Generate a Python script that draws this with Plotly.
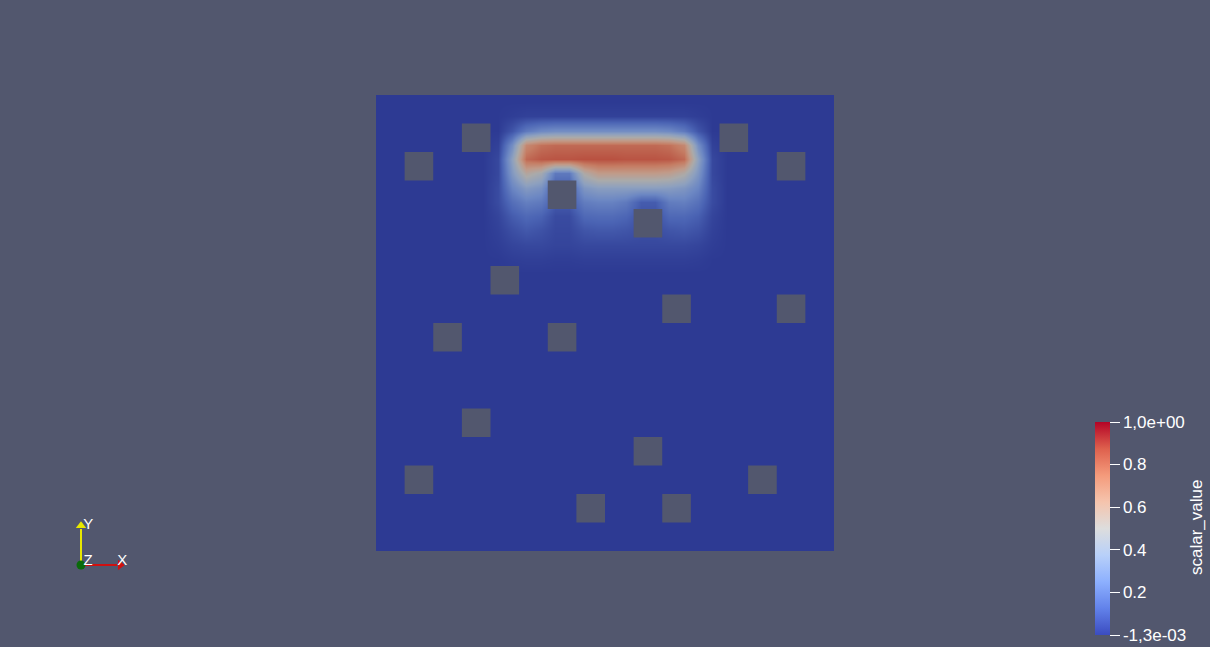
import plotly.graph_objects as go

# ---------------- data ----------------
BASE = -0.0013
ZMIN, ZMAX = -0.0013, 1.0
N_HALF = 32            # field sampled on half-cell grid (domain is 16 x 16 cells)
HOT_COL0 = 8           # first half-cell column of the read window
# field values, half-cell columns 8..23, rows from the top
hot_rows = [
    [BASE] * 16,
    [0.00, 0.01, 0.02, 0.02, 0.02, 0.02, 0.02, 0.02, 0.02, 0.02, 0.02, 0.02, 0.02, 0.02, 0.01, 0.00],
    [0.00, 0.08, 0.20, 0.26, 0.28, 0.28, 0.28, 0.28, 0.28, 0.28, 0.28, 0.28, 0.26, 0.20, 0.08, 0.00],
    [0.02, 0.28, 0.70, 0.78, 0.80, 0.80, 0.80, 0.80, 0.80, 0.80, 0.80, 0.80, 0.78, 0.70, 0.28, 0.02],
    [0.04, 0.38, 0.80, 0.85, 0.86, 0.86, 0.87, 0.87, 0.87, 0.86, 0.86, 0.86, 0.85, 0.80, 0.38, 0.04],
    [0.04, 0.33, 0.55, 0.47, 0.20, 0.20, 0.52, 0.62, 0.62, 0.62, 0.62, 0.62, 0.60, 0.52, 0.32, 0.04],
    [0.05, 0.24, 0.34, 0.30, 0.10, 0.10, 0.32, 0.36, 0.36, 0.36, 0.36, 0.36, 0.35, 0.32, 0.24, 0.05],
    [0.05, 0.16, 0.22, 0.20, 0.10, 0.10, 0.21, 0.23, 0.23, 0.20, 0.10, 0.10, 0.21, 0.22, 0.17, 0.05],
    [0.03, 0.10, 0.14, 0.12, 0.05, 0.05, 0.14, 0.15, 0.15, 0.13, 0.07, 0.07, 0.14, 0.14, 0.11, 0.03],
    [0.02, 0.06, 0.09, 0.07, 0.04, 0.04, 0.08, 0.09, 0.09, 0.08, 0.06, 0.06, 0.08, 0.09, 0.07, 0.02],
    [0.01, 0.03, 0.04, 0.04, 0.03, 0.03, 0.04, 0.04, 0.04, 0.04, 0.04, 0.04, 0.04, 0.04, 0.03, 0.01],
    [0.00, 0.01, 0.015, 0.015, 0.01, 0.01, 0.015, 0.015, 0.015, 0.015, 0.015, 0.015, 0.015, 0.015, 0.01, 0.00],
]

# obstacles (cell column, cell row from top)
obst_cols = [3, 1, 12, 14, 6, 9, 4, 10, 14, 2, 6, 3, 9, 1, 13, 7, 10]
obst_rows = [1, 2, 1, 2, 3, 4, 6, 7, 7, 8, 8, 11, 12, 13, 13, 14, 14]

tick_vals = [ZMIN, 0.2, 0.4, 0.6, 0.8, 1.0]
tick_text = ["-1,3e-03", "0.2", "0.4", "0.6", "0.8", "1,0e+00"]
bar_title = "scalar_value"

# cool-to-warm colour map (and the lighting factor seen on the rendered surface)
cw_pos = [0.0, 0.125, 0.25, 0.375, 0.5, 0.625, 0.75, 0.875, 1.0]
cw_rgb = [(59, 76, 192), (98, 130, 234), (141, 176, 254), (184, 208, 249), (221, 221, 221),
          (245, 196, 173), (244, 154, 123), (222, 96, 77), (180, 4, 38)]
cw_shade = [0.77, 0.77, 0.77, 0.77, 0.77, 0.79, 0.81, 0.83, 0.85]

# orientation triad
triad_names = ["X", "Y"]
triad_dx = [1, 0]
triad_dy = [0, 1]
triad_colors = ["#d01010", "#e8e800"]
triad_labels = ["X", "Y", "Z"]
triad_lx = [1.03, 0.18, 0.18]
triad_ly = [0.10, 1.00, 0.10]

# ---------------- build ----------------
BG = "#52576e"
FONT = "Liberation Sans"
cs_bar = [[p, "rgb(%d,%d,%d)" % c] for p, c in zip(cw_pos, cw_rgb)]
cs_lit = [[p, "rgb(%d,%d,%d)" % tuple(int(v * s) for v in c)]
          for p, c, s in zip(cw_pos, cw_rgb, cw_shade)]

z = []
for r in range(N_HALF):
    row = hot_rows[r] if r < len(hot_rows) else [BASE] * 16
    full = [BASE] * HOT_COL0 + [v if v > BASE else BASE for v in row] + [BASE] * (N_HALF - HOT_COL0 - 16)
    z.append(full)
centers = [0.25 + 0.5 * k for k in range(N_HALF)]

fig = go.Figure()
fig.add_trace(go.Heatmap(z=z, x=centers, y=centers, zmin=ZMIN, zmax=ZMAX, colorscale=cs_lit,
                         zsmooth="best", showscale=False, hoverinfo="skip"))

fig.add_trace(go.Scatter(
    x=[None], y=[None], mode="markers", showlegend=False, hoverinfo="skip",
    marker=dict(color=[0.5], colorscale=cs_bar, cmin=ZMIN, cmax=ZMAX, showscale=True,
                colorbar=dict(
                    x=1095 / 1210, xanchor="left", xpad=0,
                    y=1 - 635 / 647, yanchor="bottom", ypad=0,
                    len=213, lenmode="pixels", thickness=15,
                    outlinewidth=0,
                    ticks="outside", ticklen=10, tickwidth=1, tickcolor="white",
                    tickvals=tick_vals, ticktext=tick_text,
                    tickfont=dict(family=FONT, size=17, color="white"),
                ))))

shapes = []
for c, r in zip(obst_cols, obst_rows):
    shapes.append(dict(type="rect", xref="x", yref="y", x0=c, x1=c + 1, y0=r, y1=r + 1,
                       fillcolor=BG, line=dict(width=0), layer="above"))

# triad
for name, dx, dy, col in zip(triad_names, triad_dx, triad_dy, triad_colors):
    fig.add_trace(go.Scatter(x=[0, 0.9 * dx], y=[0, 0.9 * dy], mode="lines",
                             line=dict(color=col, width=2), xaxis="x3", yaxis="y3",
                             showlegend=False, hoverinfo="skip"))
    fig.add_trace(go.Scatter(x=[0.98 * dx], y=[0.98 * dy], mode="markers",
                             marker=dict(symbol="triangle-right" if dx else "triangle-up",
                                         size=9, color=col),
                             xaxis="x3", yaxis="y3", showlegend=False, hoverinfo="skip"))
fig.add_trace(go.Scatter(x=[0], y=[0], mode="markers", marker=dict(size=9, color="#0a6a0a"),
                         xaxis="x3", yaxis="y3", showlegend=False, hoverinfo="skip"))
fig.add_trace(go.Scatter(x=triad_lx, y=triad_ly, mode="text",
                         text=triad_labels, textposition="middle center",
                         textfont=dict(family=FONT, size=15, color="white"),
                         xaxis="x3", yaxis="y3", showlegend=False, hoverinfo="skip"))

hidden = dict(visible=False, showgrid=False, zeroline=False)
fig.update_layout(
    width=1210, height=647, margin=dict(l=0, r=0, t=0, b=0),
    paper_bgcolor=BG, plot_bgcolor="rgba(0,0,0,0)",
    xaxis=dict(domain=[376 / 1210, 834 / 1210], range=[0, 16], **hidden),
    yaxis=dict(domain=[1 - 551 / 647, 1 - 95 / 647], range=[16, 0], **hidden),
    xaxis3=dict(domain=[61 / 1210, 141 / 1210], range=[-0.5, 1.5], anchor="y3", **hidden),
    yaxis3=dict(domain=[1 - 585 / 647, 1 - 505 / 647], range=[-0.5, 1.5], anchor="x3", **hidden),
    shapes=shapes, showlegend=False,
    annotations=[dict(text=bar_title, xref="paper", yref="paper",
                      x=1196 / 1210, y=1 - 528 / 647, xanchor="center", yanchor="middle",
                      textangle=-90, showarrow=False,
                      font=dict(family=FONT, size=17, color="white"))],
)
fig.write_html("out.html")
